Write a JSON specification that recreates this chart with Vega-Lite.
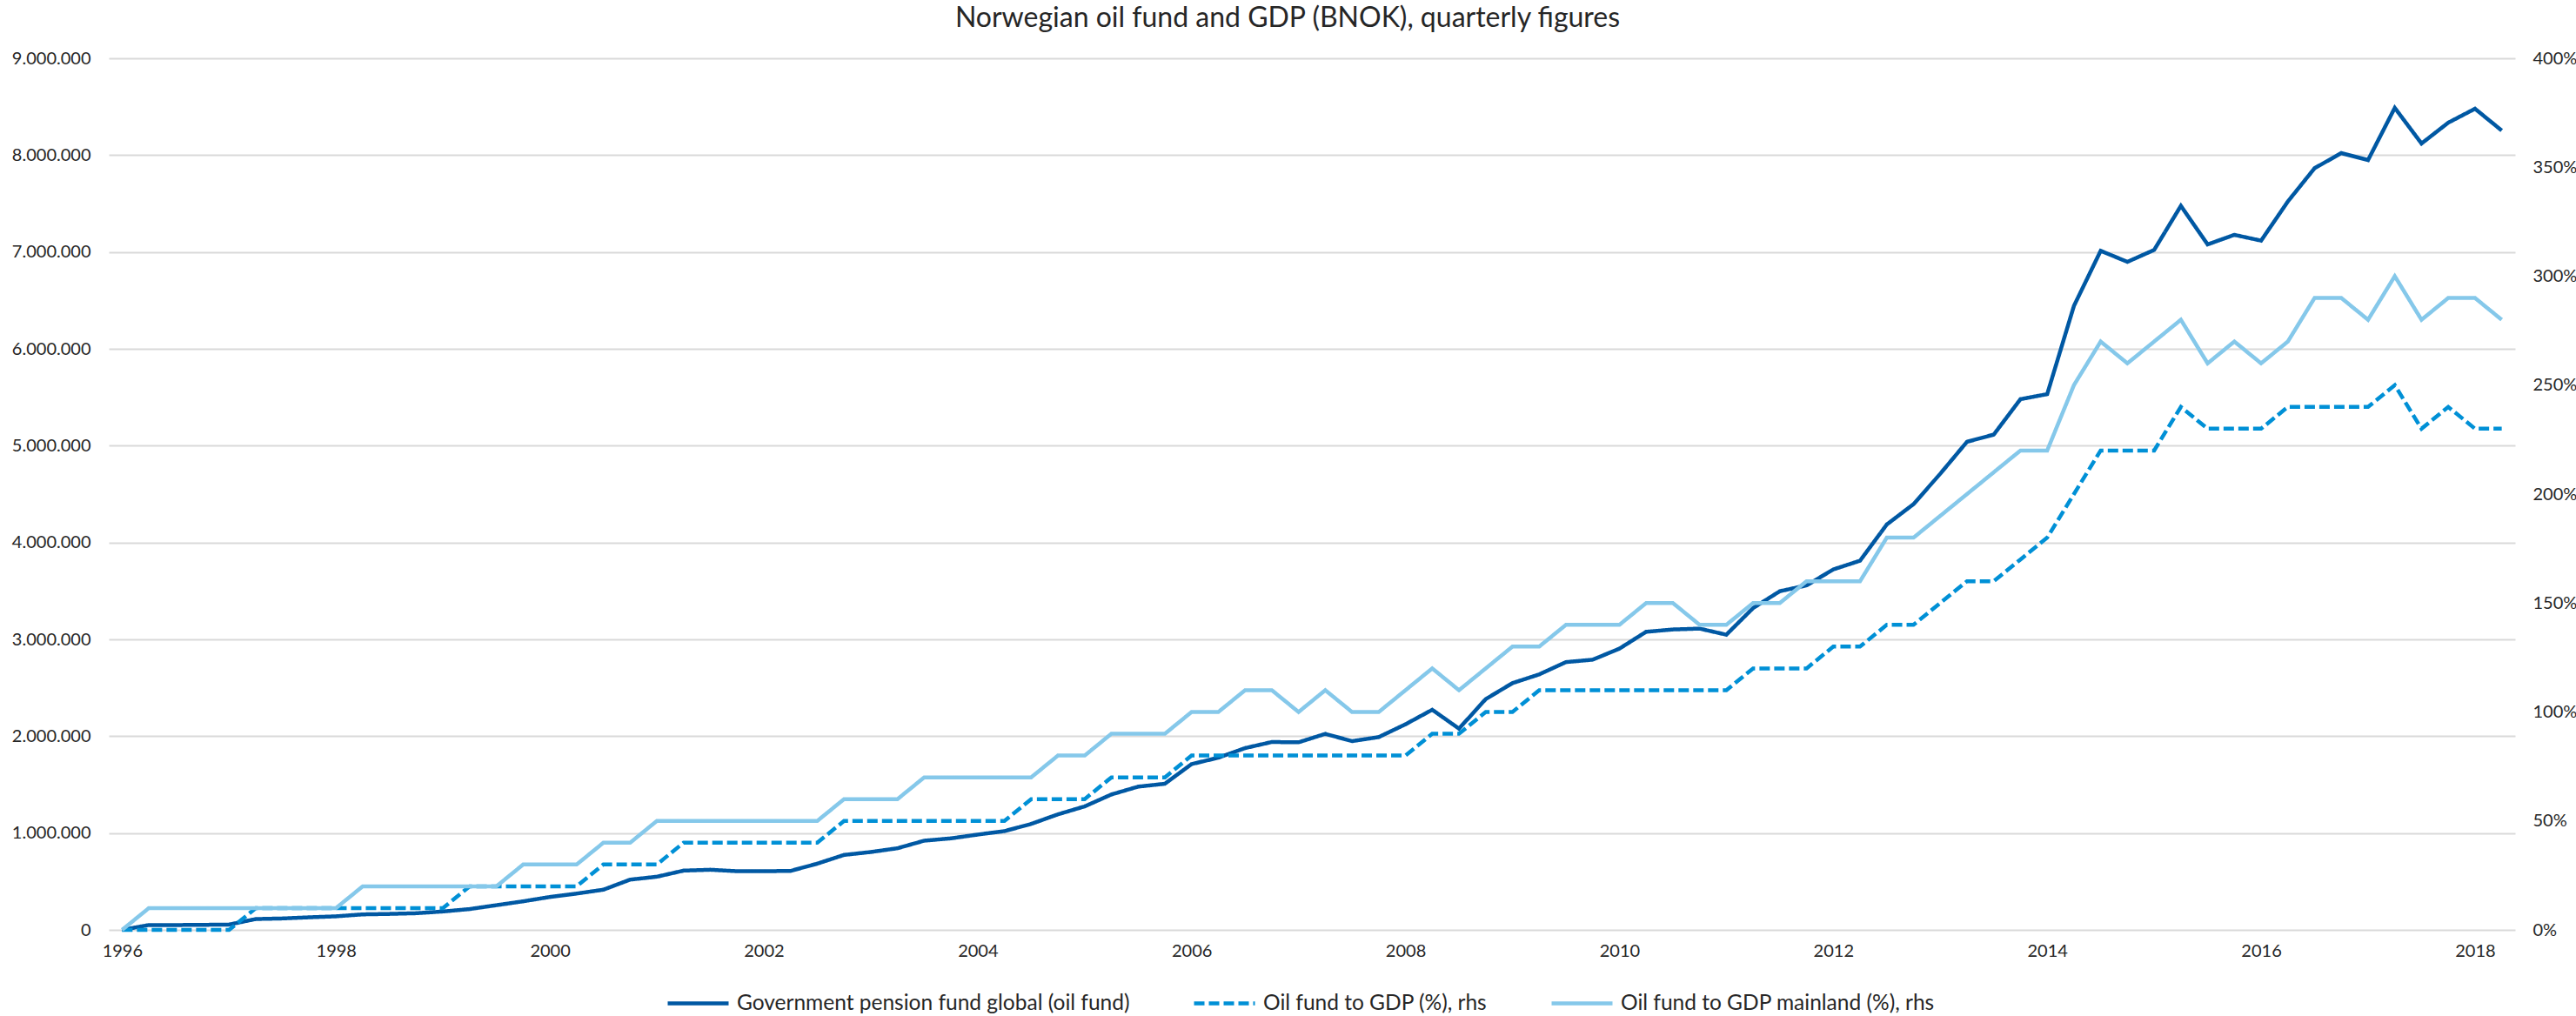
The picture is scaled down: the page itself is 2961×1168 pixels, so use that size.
{
  "$schema": "https://vega.github.io/schema/vega-lite/v6.json",
  "width": 2766,
  "height": 1002,
  "autosize": {"type": "none"},
  "padding": {"left": 125, "top": 67, "right": 70, "bottom": 99},
  "background": "white",
  "config": {
    "locale": {"number": {"decimal": ",", "thousands": ".", "grouping": [3], "currency": ["", ""]}},
    "view": {"stroke": null},
    "font": "Lato",
    "axis": {"labelFont": "Lato", "labelColor": "#262626", "labelFontSize": 20, "titleFontSize": 20}
  },
  "title": {
    "text": "Norwegian oil fund and GDP (BNOK), quarterly figures",
    "fontSize": 32,
    "fontWeight": "normal",
    "font": "Lato",
    "color": "#262626",
    "anchor": "middle",
    "frame": "group",
    "dx": -28,
    "dy": 3,
    "offset": 22
  },
  "data": {
    "values": [
      {"t": 1996, "fund": 0, "gdp": 0, "mainland": 0},
      {"t": 1996.25, "fund": 50000, "gdp": 0, "mainland": 10},
      {"t": 1996.5, "fund": 50000, "gdp": 0, "mainland": 10},
      {"t": 1996.75, "fund": 52000, "gdp": 0, "mainland": 10},
      {"t": 1997, "fund": 55000, "gdp": 0, "mainland": 10},
      {"t": 1997.25, "fund": 112000, "gdp": 10, "mainland": 10},
      {"t": 1997.5, "fund": 118000, "gdp": 10, "mainland": 10},
      {"t": 1997.75, "fund": 130000, "gdp": 10, "mainland": 10},
      {"t": 1998, "fund": 140000, "gdp": 10, "mainland": 10},
      {"t": 1998.25, "fund": 160000, "gdp": 10, "mainland": 20},
      {"t": 1998.5, "fund": 165000, "gdp": 10, "mainland": 20},
      {"t": 1998.75, "fund": 172000, "gdp": 10, "mainland": 20},
      {"t": 1999, "fund": 190000, "gdp": 10, "mainland": 20},
      {"t": 1999.25, "fund": 215000, "gdp": 20, "mainland": 20},
      {"t": 1999.5, "fund": 255000, "gdp": 20, "mainland": 20},
      {"t": 1999.75, "fund": 295000, "gdp": 20, "mainland": 30},
      {"t": 2000, "fund": 340000, "gdp": 20, "mainland": 30},
      {"t": 2000.25, "fund": 375000, "gdp": 20, "mainland": 30},
      {"t": 2000.5, "fund": 415000, "gdp": 30, "mainland": 40},
      {"t": 2000.75, "fund": 519000, "gdp": 30, "mainland": 40},
      {"t": 2001, "fund": 549000, "gdp": 30, "mainland": 50},
      {"t": 2001.25, "fund": 612000, "gdp": 40, "mainland": 50},
      {"t": 2001.5, "fund": 621000, "gdp": 40, "mainland": 50},
      {"t": 2001.75, "fund": 606000, "gdp": 40, "mainland": 50},
      {"t": 2002, "fund": 606000, "gdp": 40, "mainland": 50},
      {"t": 2002.25, "fund": 609000, "gdp": 40, "mainland": 50},
      {"t": 2002.5, "fund": 684000, "gdp": 40, "mainland": 50},
      {"t": 2002.75, "fund": 774000, "gdp": 50, "mainland": 60},
      {"t": 2003, "fund": 804000, "gdp": 50, "mainland": 60},
      {"t": 2003.25, "fund": 843000, "gdp": 50, "mainland": 60},
      {"t": 2003.5, "fund": 921000, "gdp": 50, "mainland": 70},
      {"t": 2003.75, "fund": 945000, "gdp": 50, "mainland": 70},
      {"t": 2004, "fund": 984000, "gdp": 50, "mainland": 70},
      {"t": 2004.25, "fund": 1020000, "gdp": 50, "mainland": 70},
      {"t": 2004.5, "fund": 1094000, "gdp": 60, "mainland": 70},
      {"t": 2004.75, "fund": 1193000, "gdp": 60, "mainland": 80},
      {"t": 2005, "fund": 1275000, "gdp": 60, "mainland": 80},
      {"t": 2005.25, "fund": 1398000, "gdp": 70, "mainland": 90},
      {"t": 2005.5, "fund": 1479000, "gdp": 70, "mainland": 90},
      {"t": 2005.75, "fund": 1509000, "gdp": 70, "mainland": 90},
      {"t": 2006, "fund": 1712000, "gdp": 80, "mainland": 100},
      {"t": 2006.25, "fund": 1778000, "gdp": 80, "mainland": 100},
      {"t": 2006.5, "fund": 1877000, "gdp": 80, "mainland": 110},
      {"t": 2006.75, "fund": 1940000, "gdp": 80, "mainland": 110},
      {"t": 2007, "fund": 1937000, "gdp": 80, "mainland": 100},
      {"t": 2007.25, "fund": 2024000, "gdp": 80, "mainland": 110},
      {"t": 2007.5, "fund": 1949000, "gdp": 80, "mainland": 100},
      {"t": 2007.75, "fund": 1991000, "gdp": 80, "mainland": 100},
      {"t": 2008, "fund": 2123000, "gdp": 80, "mainland": 110},
      {"t": 2008.25, "fund": 2273000, "gdp": 90, "mainland": 120},
      {"t": 2008.5, "fund": 2078000, "gdp": 90, "mainland": 110},
      {"t": 2008.75, "fund": 2383000, "gdp": 100, "mainland": 120},
      {"t": 2009, "fund": 2548000, "gdp": 100, "mainland": 130},
      {"t": 2009.25, "fund": 2638000, "gdp": 110, "mainland": 130},
      {"t": 2009.5, "fund": 2765000, "gdp": 110, "mainland": 140},
      {"t": 2009.75, "fund": 2790000, "gdp": 110, "mainland": 140},
      {"t": 2010, "fund": 2904000, "gdp": 110, "mainland": 140},
      {"t": 2010.25, "fund": 3078000, "gdp": 110, "mainland": 150},
      {"t": 2010.5, "fund": 3102000, "gdp": 110, "mainland": 150},
      {"t": 2010.75, "fund": 3111000, "gdp": 110, "mainland": 140},
      {"t": 2011, "fund": 3048000, "gdp": 110, "mainland": 140},
      {"t": 2011.25, "fund": 3323000, "gdp": 120, "mainland": 150},
      {"t": 2011.5, "fund": 3497000, "gdp": 120, "mainland": 150},
      {"t": 2011.75, "fund": 3557000, "gdp": 120, "mainland": 160},
      {"t": 2012, "fund": 3722000, "gdp": 130, "mainland": 160},
      {"t": 2012.25, "fund": 3812000, "gdp": 130, "mainland": 160},
      {"t": 2012.5, "fund": 4186000, "gdp": 140, "mainland": 180},
      {"t": 2012.75, "fund": 4396000, "gdp": 140, "mainland": 180},
      {"t": 2013, "fund": 4710000, "gdp": 150, "mainland": 190},
      {"t": 2013.25, "fund": 5040000, "gdp": 160, "mainland": 200},
      {"t": 2013.5, "fund": 5114000, "gdp": 160, "mainland": 210},
      {"t": 2013.75, "fund": 5480000, "gdp": 170, "mainland": 220},
      {"t": 2014, "fund": 5532000, "gdp": 180, "mainland": 220},
      {"t": 2014.25, "fund": 6443000, "gdp": 200, "mainland": 250},
      {"t": 2014.5, "fund": 7012000, "gdp": 220, "mainland": 270},
      {"t": 2014.75, "fund": 6898000, "gdp": 220, "mainland": 260},
      {"t": 2015, "fund": 7021000, "gdp": 220, "mainland": 270},
      {"t": 2015.25, "fund": 7476000, "gdp": 240, "mainland": 280},
      {"t": 2015.5, "fund": 7078000, "gdp": 230, "mainland": 260},
      {"t": 2015.75, "fund": 7177000, "gdp": 230, "mainland": 270},
      {"t": 2016, "fund": 7117000, "gdp": 230, "mainland": 260},
      {"t": 2016.25, "fund": 7521000, "gdp": 240, "mainland": 270},
      {"t": 2016.5, "fund": 7865000, "gdp": 240, "mainland": 290},
      {"t": 2016.75, "fund": 8021000, "gdp": 240, "mainland": 290},
      {"t": 2017, "fund": 7949000, "gdp": 240, "mainland": 280},
      {"t": 2017.25, "fund": 8488000, "gdp": 250, "mainland": 300},
      {"t": 2017.5, "fund": 8120000, "gdp": 230, "mainland": 280},
      {"t": 2017.75, "fund": 8335000, "gdp": 240, "mainland": 290},
      {"t": 2018, "fund": 8479000, "gdp": 230, "mainland": 290},
      {"t": 2018.25, "fund": 8254000, "gdp": 230, "mainland": 280}
    ]
  },
  "transform": [
    {"fold": ["fund", "gdp", "mainland"], "as": ["series", "value"]}
  ],
  "encoding": {
    "x": {
      "field": "t",
      "type": "quantitative",
      "scale": {"domain": [1995.875, 2018.375], "nice": false, "zero": false},
      "axis": {
        "title": null,
        "values": [1996, 1998, 2000, 2002, 2004, 2006, 2008, 2010, 2012, 2014, 2016, 2018],
        "format": "d",
        "grid": false,
        "domain": false,
        "ticks": false,
        "labelPadding": 14
      }
    },
    "color": {
      "field": "series",
      "type": "nominal",
      "scale": {"domain": ["fund", "gdp", "mainland"], "range": ["#0058A3", "#0090D6", "#85C8EA"]},
      "legend": {
        "title": null,
        "orient": "none",
        "legendX": 640,
        "legendY": 1049,
        "direction": "horizontal",
        "symbolType": "stroke",
        "symbolSize": 4900,
        "symbolStrokeWidth": 4.5,
        "labelFontSize": 24.5,
        "labelFont": "Lato",
        "labelColor": "#262626",
        "labelOffset": 7,
        "columnPadding": 64,
        "labelLimit": 800,
        "labelExpr": "datum.label == 'fund' ? 'Government pension fund global (oil fund)' : datum.label == 'gdp' ? 'Oil fund to GDP (%), rhs' : 'Oil fund to GDP mainland (%), rhs'"
      }
    },
    "strokeDash": {
      "field": "series",
      "type": "nominal",
      "scale": {"domain": ["fund", "gdp", "mainland"], "range": [[1, 0], [12, 5], [1, 0]]},
      "legend": {
        "title": null,
        "orient": "none",
        "legendX": 640,
        "legendY": 1049,
        "direction": "horizontal",
        "symbolType": "stroke",
        "symbolSize": 4900,
        "symbolStrokeWidth": 4.5,
        "labelFontSize": 24.5,
        "labelFont": "Lato",
        "labelColor": "#262626",
        "labelOffset": 7,
        "columnPadding": 64,
        "labelLimit": 800,
        "labelExpr": "datum.label == 'fund' ? 'Government pension fund global (oil fund)' : datum.label == 'gdp' ? 'Oil fund to GDP (%), rhs' : 'Oil fund to GDP mainland (%), rhs'"
      }
    }
  },
  "layer": [
    {
      "transform": [{"filter": "datum.series == 'fund'"}],
      "mark": {"type": "line", "strokeWidth": 4.5},
      "encoding": {
        "y": {
          "field": "value",
          "type": "quantitative",
          "scale": {"domain": [0, 9000000], "nice": false},
          "axis": {
            "title": null,
            "orient": "left",
            "values": [0, 1000000, 2000000, 3000000, 4000000, 5000000, 6000000, 7000000, 8000000, 9000000],
            "format": ",d",
            "grid": true,
            "gridColor": "#D9D9D9",
            "gridWidth": 2,
            "domain": false,
            "ticks": false,
            "labelPadding": 21
          }
        }
      }
    },
    {
      "transform": [{"filter": "datum.series != 'fund'"}],
      "mark": {"type": "line", "strokeWidth": 4.5},
      "encoding": {
        "y": {
          "field": "value",
          "type": "quantitative",
          "scale": {"domain": [0, 400], "nice": false},
          "axis": {
            "title": null,
            "orient": "right",
            "values": [0, 50, 100, 150, 200, 250, 300, 350, 400],
            "labelExpr": "datum.value + '%'",
            "grid": false,
            "domain": false,
            "ticks": false,
            "labelPadding": 20
          }
        }
      }
    }
  ],
  "resolve": {"scale": {"y": "independent"}}
}
